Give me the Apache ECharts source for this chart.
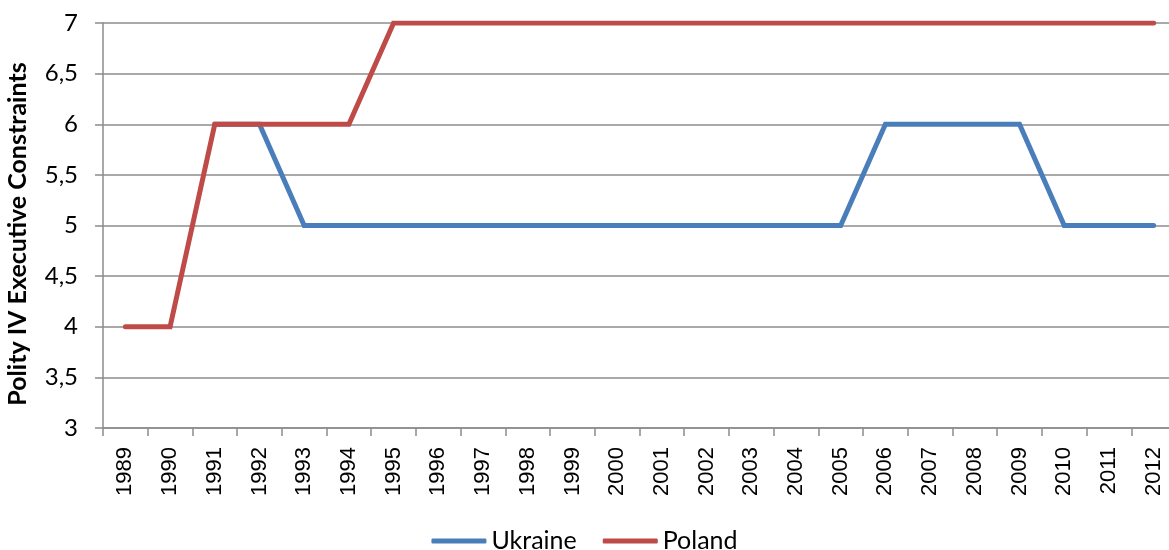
<!DOCTYPE html>
<html>
<head>
<meta charset="utf-8">
<script src="https://cdn.jsdelivr.net/npm/echarts@6/dist/echarts.min.js"></script>
<style>
  html, body { margin: 0; padding: 0; background: #ffffff; }
  #chart { width: 1169px; height: 550px; }
</style>
</head>
<body>
<div id="chart"></div>
<script>
// Polity IV executive constraints, 1989–2012
const years = ['1989','1990','1991','1992','1993','1994','1995','1996','1997','1998','1999','2000',
               '2001','2002','2003','2004','2005','2006','2007','2008','2009','2010','2011','2012'];
const ukraine = [null, null, 6, 6, 5, 5, 5, 5, 5, 5, 5, 5,
                 5, 5, 5, 5, 5, 6, 6, 6, 6, 5, 5, 5];
const poland = [4, 4, 6, 6, 6, 6, 7, 7, 7, 7, 7, 7,
                7, 7, 7, 7, 7, 7, 7, 7, 7, 7, 7, 7];
const yTicks = { min: 3, max: 7, step: 0.5 };

const chart = echarts.init(document.getElementById('chart'));
const gridColor = '#8c8c8c';
const uiFont = 'Lato, "Open Sans", sans-serif';
chart.setOption({
  animation: false,
  backgroundColor: '#ffffff',
  grid: { left: 103, top: 23, width: 1073, height: 405, containLabel: false, outerBoundsMode: 'none' },
  legend: {
    top: 528,
    left: 'center',
    padding: 0,
    itemWidth: 55,
    itemHeight: 5,
    itemGap: 26,
    icon: 'roundRect',
    textStyle: { fontFamily: uiFont, fontSize: 25, lineHeight: 26, color: '#000' },
    data: ['Ukraine', 'Poland']
  },
  xAxis: {
    type: 'category',
    data: years,
    boundaryGap: true,
    axisLine: { lineStyle: { color: gridColor, width: 1.5 } },
    axisTick: { show: true, length: 8, lineStyle: { color: gridColor, width: 1.5 } },
    axisLabel: { rotate: 90, fontFamily: '"Liberation Sans", Arial, sans-serif', fontSize: 22, color: '#000', margin: 19, interval: 0 }
  },
  yAxis: {
    type: 'value',
    min: yTicks.min,
    max: yTicks.max,
    interval: yTicks.step,
    name: 'Polity IV Executive Constraints',
    nameLocation: 'middle',
    nameGap: 73,
    nameTextStyle: { fontFamily: uiFont, fontWeight: 'bold', fontSize: 25, color: '#000', padding: [0, 17, 0, 0] },
    axisLine: { show: true, lineStyle: { color: gridColor, width: 1.5 } },
    axisTick: { show: true, length: 8, lineStyle: { color: gridColor, width: 1.5 } },
    splitLine: { lineStyle: { color: gridColor, width: 1.5 } },
    axisLabel: {
      fontFamily: uiFont, fontSize: 24, color: '#000', margin: 25,
      formatter: v => String(v).replace('.', ',')
    }
  },
  series: [
    {
      name: 'Ukraine', type: 'line', data: ukraine,
      symbol: 'none', connectNulls: false,
      lineStyle: { color: '#4a7ebb', width: 5, cap: 'round', join: 'miter' },
      itemStyle: { color: '#4a7ebb' }
    },
    {
      name: 'Poland', type: 'line', data: poland,
      symbol: 'none',
      lineStyle: { color: '#be4b48', width: 5, cap: 'round', join: 'miter' },
      itemStyle: { color: '#be4b48' }
    }
  ]
});
</script>
</body>
</html>
